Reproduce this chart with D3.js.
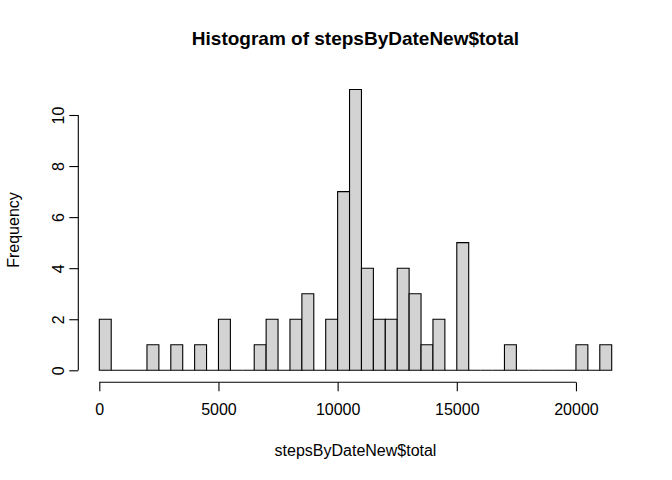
<!DOCTYPE html>
<html>
<head>
<meta charset="utf-8">
<script src="https://cdn.jsdelivr.net/npm/d3@7"></script>
<style>
  body { margin: 0; background: #fff; }
  text { font-family: "Liberation Sans", Arial, sans-serif; fill: #000; }
</style>
</head>
<body>
<div id="chart"></div>
<script>
// Histogram bins: 500-step breaks from 0 to 21500
const breaks = d3.range(0, 21501, 500);
const counts = [2, 0, 0, 0, 1, 0, 1, 0, 1, 0, 2, 0, 0, 1, 2, 0, 2, 3, 0, 2,
                7, 11, 4, 2, 2, 4, 3, 1, 2, 0, 5, 0, 0, 0, 1, 0, 0, 0, 0, 0,
                1, 0, 1];
const xTicks = [0, 5000, 10000, 15000, 20000];
const yTicks = [0, 2, 4, 6, 8, 10];

const width = 672, height = 480;

const svg = d3.select("#chart")
    .append("svg")
    .attr("width", width)
    .attr("height", height);

// Scales
const x = d3.scaleLinear()
    .domain([0, 21500])
    .range([99.3, 611.7]);

const y = d3.scaleLinear()
    .domain([0, 10])
    .range([370.3, 115]);

const bins = counts.map((c, i) => ({ x0: breaks[i], x1: breaks[i + 1], n: c }));

// Bars as closed paths so empty bins still show a line on the baseline
svg.selectAll(".bar")
    .data(bins)
    .enter().append("path")
    .attr("class", "bar")
    .attr("d", d => `M${x(d.x0)},${y(0)}H${x(d.x1)}V${y(d.n)}H${x(d.x0)}Z`)
    .style("fill", "#d3d3d3")
    .style("stroke", "#000")
    .style("stroke-width", 1.1);

// x axis, offset below the bars like base R
const xAxis = svg.append("g")
    .attr("transform", "translate(0,382.3)")
    .call(d3.axisBottom(x).tickValues(xTicks).tickFormat(d3.format("d")).tickSize(9).tickPadding(12));

// y axis, rotated labels
const yAxis = svg.append("g")
    .attr("transform", "translate(78.3,0)")
    .call(d3.axisLeft(y).tickValues(yTicks).tickSize(9).tickPadding(0));

[xAxis, yAxis].forEach(g => {
    g.select(".domain").attr("d", null);
    g.selectAll("line").style("stroke", "#000").style("stroke-width", 1.1);
    g.selectAll("text").style("font-size", "16px").style("fill", "#000");
});

// Axis lines from first to last tick
xAxis.append("line")
    .attr("x1", x(xTicks[0])).attr("x2", x(xTicks[xTicks.length - 1]))
    .style("stroke", "#000").style("stroke-width", 1.1);
yAxis.append("line")
    .attr("y1", y(yTicks[0])).attr("y2", y(yTicks[yTicks.length - 1]))
    .style("stroke", "#000").style("stroke-width", 1.1);

yAxis.selectAll(".tick text")
    .attr("x", 0)
    .attr("text-anchor", "middle")
    .attr("transform", "translate(-20,0) rotate(-90)")
    .attr("dy", "0.35em");

// Titles
svg.append("text")
    .attr("x", 355.5).attr("y", 45)
    .attr("text-anchor", "middle")
    .style("font-size", "19px").style("font-weight", "bold")
    .text("Histogram of stepsByDateNew$total");

svg.append("text")
    .attr("x", 355.5).attr("y", 456)
    .attr("text-anchor", "middle")
    .style("font-size", "16px")
    .text("stepsByDateNew$total");

svg.append("text")
    .attr("transform", "translate(19,230) rotate(-90)")
    .attr("text-anchor", "middle")
    .style("font-size", "16px")
    .text("Frequency");
</script>
</body>
</html>
